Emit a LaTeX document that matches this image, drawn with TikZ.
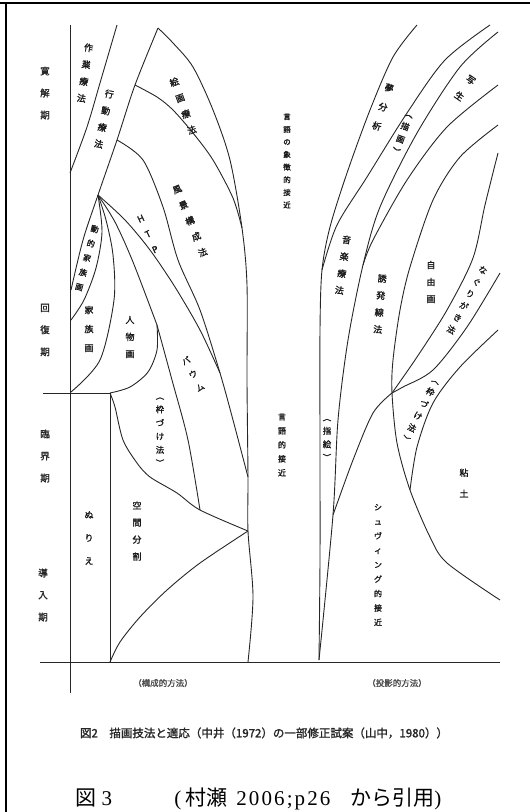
\documentclass[tikz,border=0pt]{standalone}
\usepackage{fontspec}
\setmainfont{Liberation Serif}
\newfontfamily\jp{Noto Sans CJK JP}[AutoFakeBold=1.5]
\tikzset{every picture/.style={line width=0.75pt}}
\tikzset{
curve/.style={line width=0.9pt,black!85},
lbl/.style={align=center,inner sep=0pt,text=black!90,font=\jp\bfseries\fontsize{9}{17}\selectfont},
lbltight/.style={align=center,inner sep=0pt,text=black!90,font=\jp\bfseries\fontsize{8.5}{13.5}\selectfont},
period/.style={align=center,inner sep=0pt,text=black!85,font=\jp\bfseries\fontsize{9.5}{22}\selectfont},
method/.style={inner sep=0pt,text=black!70,font=\jp\bfseries\fontsize{8.5}{10}\selectfont},
citetext/.style={anchor=base west,inner sep=0pt,font=\fontsize{21}{23}\selectfont}}

\begin{document}
\begin{tikzpicture}[x=1pt,y=-1pt]
  \useasboundingbox (0,0) rectangle (530,812);
  \draw[line width=2pt] (0,3) -- (530,3);
  \draw[line width=2pt] (6,3) -- (6,812);

  \coordinate (axtop) at (70,25);
  \coordinate (axbot) at (70,693);
  \coordinate (Atop) at (117,25);
  \coordinate (Abot) at (70,173);
  \coordinate (apex) at (158,28);
  \coordinate (c1) at (135,85);
  \coordinate (c2) at (117,140);
  \coordinate (fan) at (98,195);
  \coordinate (Bbot) at (71,290);
  \coordinate (Rm) at (242,228);
  \coordinate (lmeet) at (220,373);
  \coordinate (mrg) at (248,477);
  \coordinate (split) at (157,325);
  \coordinate (kq) at (200,510);
  \coordinate (ksw) at (248,531);
  \coordinate (rbot) at (248,662);
  \coordinate (hl) at (43,393);
  \coordinate (hr) at (110,393);
  \coordinate (nbot) at (110,662);
  \coordinate (bl) at (40,662);
  \coordinate (br) at (500,662);

  \coordinate (r1t) at (417,25);
  \coordinate (r1m) at (322,270);
  \coordinate (vbot) at (319,660);
  \coordinate (r2t) at (490,25);
  \coordinate (r3t) at (498,32);
  \coordinate (r3m) at (363,265);
  \coordinate (r9m) at (333,515);
  \coordinate (r4t) at (498,85);
  \coordinate (r5t) at (498,125);
  \coordinate (jct) at (392,393);
  \coordinate (r8m) at (410,490);
  \coordinate (r5b) at (500,600);
  \coordinate (r6t) at (498,153);
  \coordinate (r7t) at (500,273);
  \coordinate (r8t) at (498,330);

  \draw[curve] (axtop) -- (axbot);
  \draw[curve] (bl) -- (br);
  \draw[curve] (hl) -- (hr) -- (nbot);
  \draw[curve] plot[smooth] coordinates {(Abot) (87,127) (100,83) (Atop)};
  \draw[curve] plot[smooth] coordinates {(apex) (173,43) (193,67) (213,110) (230,160) (Rm) (247,285) (247,380) (mrg) (ksw) (253,597) (rbot)};
  \draw[curve] plot[smooth] coordinates {(apex) (c1) (c2) (fan) (83,240) (Bbot)};
  \draw[curve] plot[smooth] coordinates {(c1) (157,97) (173,110) (193,133) (213,160) (233,198) (Rm)};
  \draw[curve] plot[smooth] coordinates {(c2) (143,160) (163,207) (178,260) (200,310) (lmeet) (233,420) (mrg)};
  \draw[curve] plot[smooth] coordinates {(fan) (125,220) (150,250) (175,287) (200,330) (lmeet)};
  \draw[curve] plot[smooth] coordinates {(fan) (115,222) (133,262) (split)};
  \draw[curve] plot[smooth] coordinates {(split) (172,380) (188,440) (kq)};
  \draw[curve] plot[smooth] coordinates {(split) (157,350) (148,372) (130,387) (hr)};
  \draw[curve] plot[smooth] coordinates {(fan) (106,220) (113,255) (114,300) (100,360) (71,392)};
  \draw[curve] plot[smooth] coordinates {(fan) (102,232) (96,268) (84,300) (71,320)};
  \draw[curve] plot[smooth] coordinates {(hr) (115,407) (123,440) (137,463) (150,477) (177,493) (kq) (ksw)};
  \draw[curve] plot[smooth] coordinates {(nbot) (120,642) (140,617) (167,590) (200,563) (ksw)};

  \draw[curve] plot[smooth] coordinates {(r1t) (393,57) (370,110) (347,173) (330,227) (r1m) (320,330) (320,450) (320,560) (vbot)};
  \draw[curve] plot[smooth] coordinates {(r2t) (445,60) (407,113) (367,177) (337,225) (r1m)};
  \draw[curve] plot[smooth] coordinates {(r3t) (460,67) (417,133) (380,207) (r3m) (348,340) (338,420) (r9m) (vbot)};
  \draw[curve] plot[smooth] coordinates {(r4t) (447,127) (407,180) (373,240) (r3m)};
  \draw[curve] plot[smooth] coordinates {(r5t) (460,157) (433,200) (410,267) (400,310) (393,360) (jct) (397,443) (r8m) (430,537) (447,563) (r5b)};
  \draw[curve] plot[smooth] coordinates {(r6t) (485,205) (473,258) (447,310) (417,357) (jct)};
  \draw[curve] plot[smooth] coordinates {(r7t) (467,327) (433,370) (403,387) (jct)};
  \draw[curve] plot[smooth] coordinates {(r8t) (460,367) (433,403) (417,447) (r8m)};
  \draw[curve] plot[smooth] coordinates {(jct) (373,413) (353,460) (r9m)};

  \node[period] (kankai) at (45,93) {寛\\解\\期};
  \node[period] (kaifuku) at (45,330) {回\\復\\期};
  \node[period] (rinkai) at (45,456) {臨\\界\\期};
  \node[period] (donyu) at (43,595) {導\\入\\期};

  \node[lbl,rotate=-8] (sagyo) at (85,73) {作\\業\\療\\法};
  \node[lbl,rotate=-12] (kodo) at (104,119) {行\\動\\療\\法};
  \node[lbl,rotate=20] (kaiga) at (183,106) {絵\\画\\療\\法};
  \node[lbl,rotate=22] (fukei) at (190,221) {風\\景\\構\\成\\法};
  \node[lbl,rotate=25] (htp) at (148,234) {H\\T\\P};
  \node[lbltight,rotate=-15,font=\jp\bfseries\fontsize{8}{15}\selectfont] (doteki) at (87,258) {動\\的\\家\\族\\画};
  \node[lbl,font=\jp\bfseries\fontsize{9}{19}\selectfont] (kazoku) at (89,329) {家\\族\\画};
  \node[lbl] (jinbutsu) at (130,337) {人\\物\\画};
  \node[lbl,rotate=28,font=\jp\bfseries\fontsize{8.5}{15}\selectfont] (baum) at (193,374) {バ\\ウ\\ム};
  \node[lbltight] (wakuL) at (160,432) {︵\\枠\\づ\\け\\法\\︶};
  \node[lbl,font=\jp\bfseries\fontsize{9}{23}\selectfont] (nurie) at (89,538) {ぬ\\り\\え};
  \node[lbl] (kukan) at (137,531) {空\\間\\分\\割};

  \node[lbl,rotate=-18,font=\jp\bfseries\fontsize{9}{20}\selectfont] (yume) at (383,107) {夢\\分\\析};
  \node[lbltight,rotate=-20] (byoga) at (402,135) {︵\\描\\画\\︶};
  \node[lbl,rotate=-35,font=\jp\bfseries\fontsize{9}{20}\selectfont] (shasei) at (465,88) {写\\生};
  \node[lbl,rotate=-8] (ongaku) at (343,265) {音\\楽\\療\\法};
  \node[lbl,rotate=-5] (yuhatsu) at (380,304) {誘\\発\\線\\法};
  \node[lbl] (jiyu) at (431,282) {自\\由\\画};
  \node[lbltight,rotate=-28] (nagu) at (467,300) {な\\ぐ\\り\\が\\き\\法};
  \node[lbltight,rotate=-27] (wakuR) at (420,412) {︵\\枠\\づ\\け\\法\\︶};
  \node[lbltight] (yubie) at (327,440) {︵\\指\\絵\\︶};
  \node[lbl,font=\jp\bfseries\fontsize{9}{21}\selectfont] (nendo) at (464,483) {粘\\土};
  \node[lbltight,font=\jp\bfseries\fontsize{8}{14.4}\selectfont] (schwing) at (378,565) {シ\\ュ\\ヴ\\ィ\\ン\\グ\\的\\接\\近};

  \node[lbltight,font=\jp\bfseries\fontsize{7.5}{12.6}\selectfont] (gengoA) at (287,161) {言\\語\\の\\象\\徴\\的\\接\\近};
  \node[lbltight,font=\jp\bfseries\fontsize{8}{14}\selectfont] (gengoB) at (282,445) {言\\語\\的\\接\\近};

  \node[method] (kosei) at (163,683) {（構成的方法）};
  \node[method] (toei) at (397,683) {（投影的方法）};

  \node[inner sep=0pt,text=black!85,font=\jp\bfseries\fontsize{11.5}{13}\selectfont] (caption) at (264,733) {図2\quad 描画技法と適応（中井（1972）の一部修正試案（山中，1980））};

  \node[citetext] (zu) at (75,805) {{\jp 図}\ 3};
  \node[citetext] (paren) at (174,805) {(};
  \node[citetext,font=\jp\fontsize{21}{23}\selectfont] (murase) at (185,805) {村瀬};
  \node[citetext,font=\fontsize{21}{23}\selectfont\addfontfeature{LetterSpace=10}] (year) at (236,805) {2006;p26};
  \node[citetext] (inyo) at (350,805) {{\jp から引用})};
\end{tikzpicture}
\end{document}
